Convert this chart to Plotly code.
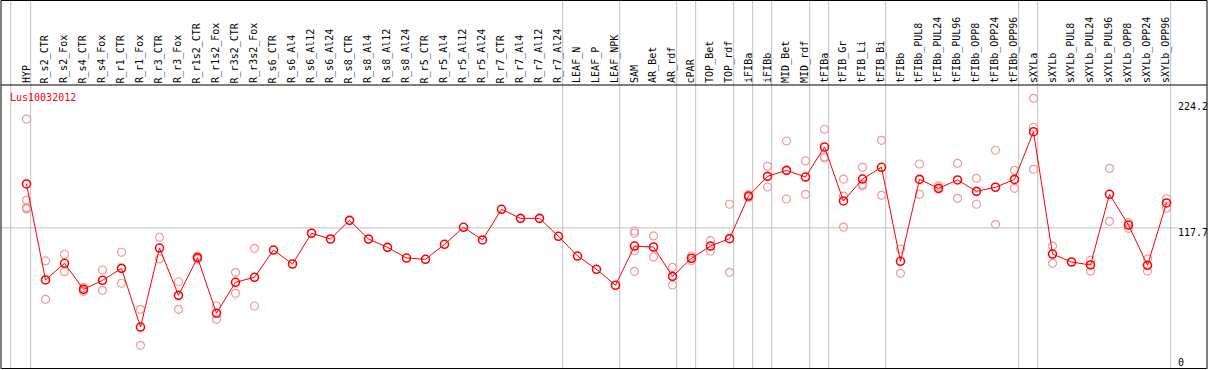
import plotly.graph_objects as go

categories = ["HYP", "R_s2_CTR", "R_s2_Fox", "R_s4_CTR", "R_s4_Fox", "R_r1_CTR", "R_r1_Fox",
              "R_r3_CTR", "R_r3_Fox", "R_r1s2_CTR", "R_r1s2_Fox", "R_r3s2_CTR", "R_r3s2_Fox",
              "R_s6_CTR", "R_s6_Al4", "R_s6_Al12", "R_s6_Al24", "R_s8_CTR", "R_s8_Al4",
              "R_s8_Al12", "R_s8_Al24", "R_r5_CTR", "R_r5_Al4", "R_r5_Al12", "R_r5_Al24",
              "R_r7_CTR", "R_r7_Al4", "R_r7_Al12", "R_r7_Al24", "LEAF_N", "LEAF_P", "LEAF_NPK",
              "SAM", "AR_Bet", "AR_rdf", "cPAR", "TOP_Bet", "TOP_rdf", "iFIBa", "iFIBb",
              "MID_Bet", "MID_rdf", "tFIBa", "tFIB_Gr", "tFIB_Li", "tFIB_Bi", "tFIBb",
              "tFIBb_PUL8", "tFIBb_PUL24", "tFIBb_PUL96", "tFIBb_OPP8", "tFIBb_OPP24",
              "tFIBb_OPP96", "sXYLa", "sXYLb", "sXYLb_PUL8", "sXYLb_PUL24", "sXYLb_PUL96",
              "sXYLb_OPP8", "sXYLb_OPP24", "sXYLb_OPP96"]

means = [155.1, 73.3, 87.5, 65.3, 73.0, 83.2, 33.2, 100.5, 60.2, 92.3, 44.9, 71.3, 75.6,
         98.8, 86.9, 113.1, 108.2, 124.1, 108.2, 101.1, 92.0, 90.9, 103.7, 118.2, 107.4,
         133.5, 125.8, 125.8, 110.5, 93.7, 82.4, 68.8,
         102.2, 101.4, 76.4, 91.8, 102.2, 108.5, 144.8, 161.6, 166.7, 161.0, 186.6,
         140.6, 159.3, 169.3, 89.2, 159.0, 151.4, 158.5, 148.8, 152.3, 159.0,
         199.6, 95.4, 88.6, 86.1, 146.3, 120.1, 85.8, 138.9]

replicates = [
    [210.4, 141.4, 134.9, 133.8],  # HYP
    [89.5, 56.8], [95.2, 80.4], [67.0, 63.6], [81.8, 64.5], [96.9, 70.5], [48.3, 17.6],
    [109.7, 91.2], [71.8, 48.3], [93.5, 91.1], [51.1, 39.8], [79.8, 61.9], [100.3, 51.1],
    [], [], [], [], [], [], [], [], [], [], [], [], [], [], [], [], [], [], [],
    [115.0, 113.1, 98.2, 80.7],  # SAM
    [110.8, 92.9], [84.1, 69.0], [93.7, 89.9], [106.8, 98.0], [137.8, 79.8],
    [146.0, 143.6], [170.1, 152.5], [191.7, 142.3], [174.7, 146.3],
    [201.7, 178.3, 177.2], [159.3, 144.8, 118.4], [169.3, 153.6, 155.0], [192.3, 145.4],
    [99.7, 79.0], [172.1, 146.3], [153.4, 150.5], [172.7, 142.9], [159.9, 137.8],
    [183.8, 120.7], [166.7, 151.4],
    [228.1, 203.4, 167.6],  # sXYLa
    [102.2, 87.5], [], [90.1, 80.9], [168.4, 123.3], [122.1, 117.3], [91.2, 80.9],
    [142.5, 134.6],
]

# indices after which a group separator is drawn
group_ends = [-1, 0, 28, 31, 34, 35, 37, 38, 39, 41, 42, 45, 52, 53, 60]
axis_ticks = [224.2, 117.7, 0]
title_text = "Lus10032012"

W, H = 1209, 370
FONT = "DejaVu Sans Mono"

def px_x(px):
    return px / W

def px_y(py):
    return 1 - py / H

idx = list(range(len(categories)))
rep_x, rep_y = [], []
for i, reps in enumerate(replicates):
    for v in reps:
        rep_x.append(i)
        rep_y.append(v)

fig = go.Figure()
fig.add_trace(go.Scatter(
    x=rep_x, y=rep_y, mode="markers",
    marker=dict(symbol="circle-open", size=8, color="#ef9a9a", line=dict(width=1.2, color="#ef9a9a")),
    hoverinfo="skip", showlegend=False))
fig.add_trace(go.Scatter(
    x=idx, y=means, mode="lines+markers",
    line=dict(color="#ff0000", width=1),
    marker=dict(symbol="circle-open", size=8, color="#ff0000", line=dict(width=1.6, color="#ff0000")),
    hoverinfo="skip", showlegend=False))

shapes = []
shapes.append(dict(type="line", xref="paper", yref="y", x0=px_x(1), x1=px_x(1178),
                   y0=axis_ticks[1], y1=axis_ticks[1], line=dict(color="#c0c0c0", width=1), layer="below"))
for g in group_ends:
    xg = g + 0.22 if g >= 0 else -0.83
    shapes.append(dict(type="line", xref="x", yref="paper", x0=xg, x1=xg, y0=px_y(368), y1=px_y(0),
                       line=dict(color="#c0c0c0", width=1), layer="below"))
shapes.append(dict(type="line", xref="paper", yref="paper", x0=px_x(1), x1=px_x(1207),
                   y0=px_y(85), y1=px_y(85), line=dict(color="black", width=1)))
shapes.append(dict(type="rect", xref="paper", yref="paper", x0=px_x(1), x1=px_x(1207),
                   y0=px_y(368.5), y1=px_y(0.5), line=dict(color="black", width=1)))

annotations = []
for i, c in enumerate(categories):
    annotations.append(dict(x=i - 0.03, xref="x", y=px_y(84), yref="paper", text=c,
                            textangle=-90, xanchor="center", yanchor="bottom", showarrow=False,
                            font=dict(family=FONT, size=10, color="black"), borderpad=0))
annotations.append(dict(x=px_x(9), xref="paper", y=px_y(97.5), yref="paper", text=title_text,
                        xanchor="left", yanchor="middle", showarrow=False,
                        font=dict(family=FONT, size=10, color="#ff0000"), borderpad=0))
tick_py = [106.7, 232.7, 362]
for v, py in zip(axis_ticks, tick_py):
    annotations.append(dict(x=px_x(1177), xref="paper", y=px_y(py), yref="paper", text=str(v),
                            xanchor="left", yanchor="middle", showarrow=False,
                            font=dict(family=FONT, size=10, color="black"), borderpad=0))

fig.update_layout(
    width=W, height=H, margin=dict(l=0, r=0, t=0, b=0),
    paper_bgcolor="white", plot_bgcolor="white",
    xaxis=dict(range=[-26.5 / 19, (W - 26.5) / 19], visible=False, fixedrange=True),
    yaxis=dict(range=[-4 / 1.1737, 366 / 1.1737], visible=False, fixedrange=True),
    shapes=shapes, annotations=annotations, showlegend=False,
)
fig.write_html("out.html", config={"displayModeBar": False},
               post_script="document.body.style.margin='0px';document.body.style.overflow='hidden';")
